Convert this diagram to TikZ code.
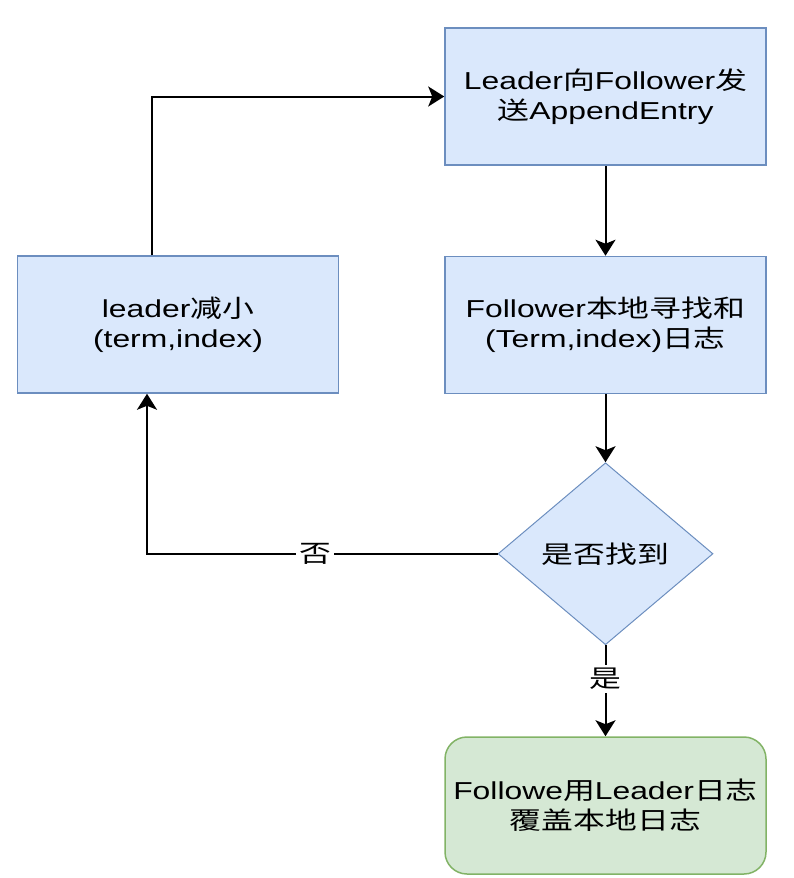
\documentclass[tikz,border=0pt]{standalone}
\usepackage{fontspec}
\setmainfont{Liberation Sans}[FakeStretch=1.3]
\newfontfamily\cjk{Noto Sans CJK SC}[FakeStretch=1.3]
\newcommand{\zh}[1]{{\cjk #1}}
\usetikzlibrary{arrows.meta,shapes.geometric,positioning}
\definecolor{boxblue}{HTML}{DAE8FC}
\definecolor{lineblue}{HTML}{6C8EBF}
\definecolor{boxgreen}{HTML}{D5E8D4}
\definecolor{linegreen}{HTML}{82B366}

\begin{document}
\begin{tikzpicture}[x=1pt,y=-1pt]
	\tikzstyle{B} = [draw=lineblue,fill=boxblue,line width=1.5pt,minimum width=321pt,minimum height=137pt,align=center,font=\fontsize{24.5}{30}\selectfont]
	\tikzstyle{G} = [B,draw=linegreen,fill=boxgreen,rounded corners=22pt]
	\tikzstyle{D} = [B,diamond,minimum width=215pt,minimum height=182pt,inner sep=0pt,line width=1pt]
	\tikzstyle{arr} = [-{Stealth[length=16pt,width=20pt,inset=4pt]},line width=2pt]
	\tikzstyle{lbl} = [fill=white,inner sep=3pt,font=\fontsize{24.5}{30}\selectfont]
	\useasboundingbox (0,0) rectangle (794,878);
	\node[B] (send) at (605.5,96.5) {Leader\zh{向}Follower\zh{发}\\\zh{送}AppendEntry};
	\node[B,below=90pt of send] (find) {Follower\zh{本地寻找和}\\(Term,index)\zh{日志}};
	\node[D,below=68pt of find] (found) {\zh{是否找到}};
	\node[G,below=91pt of found] (cover) {Followe\zh{用}Leader\zh{日志}\\\zh{覆盖本地日志}};
	\node[B] (dec) at (178,324.5) {leader\zh{减小}\\(term,index)};
	\draw[arr] (send) to (find);
	\draw[arr] (find) to (found);
	\draw[arr] (found) to node[lbl,pos=0.37]{\zh{是}} (cover);
	\draw[arr] (found.west) -| node[lbl,pos=0.26]{\zh{否}} ([xshift=-31pt]dec.south);
	\draw[arr] ([xshift=-26pt]dec.north) |- (send.west);
\end{tikzpicture}
\end{document}
